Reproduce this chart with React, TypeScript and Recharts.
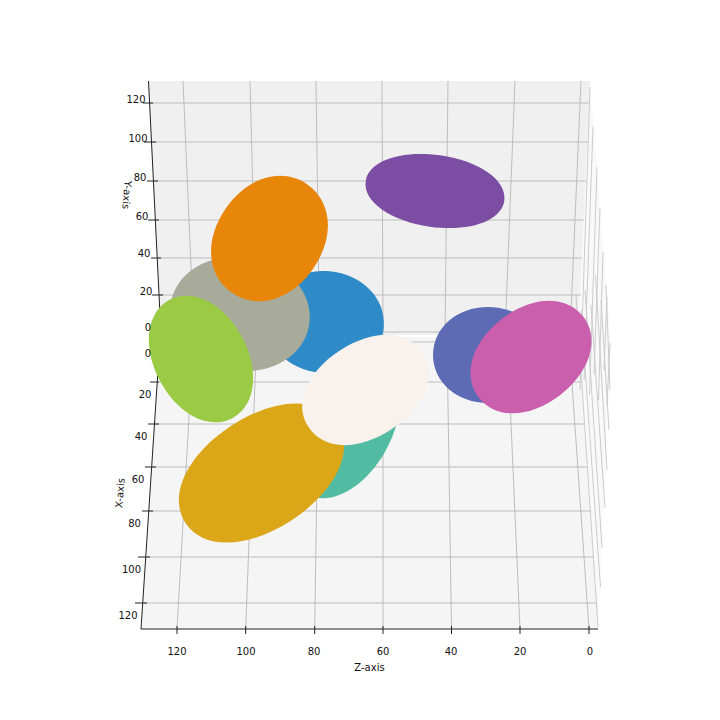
import React from 'react';
import { ComposedChart, Area, Line, Scatter, XAxis, YAxis } from 'recharts';

// the 3D view is already projected, so everything is read in picture units
const SIZE = 720;
const FONT = '"DejaVu Sans", sans-serif';

const blobNames = ['purple', 'blue', 'gray', 'orange', 'green', 'teal', 'gold', 'cream', 'indigo', 'magenta'];
const blobX = [435, 325, 240, 269.5, 201, 344, 261.5, 365.5, 488, 531];
const blobY = [191, 322, 314, 238.5, 359, 429, 473, 390, 355, 357];
const blobLong = [70, 59, 70, 66, 67, 75, 91, 68, 55, 66];
const blobShort = [36, 51, 57, 53, 46.5, 47, 56, 47, 48, 48];
const blobTilt = [8, 5, 8, -55, 62, -60, -33.5, -33, 0, -38];
const blobRound = [0.57, 0.56, 0.565, 0.58, 0.57, 0.56, 0.58, 0.59, 0.565, 0.58];
const blobColors = ['#7b4ea3', '#2e8bc7', '#a8ab9a', '#e8860a', '#9bca44', '#52bca3', '#dba617', '#f8f1ec', '#5d6ab4', '#ca5fae'];

// panes, as [x, [top, bottom]]
const wallPane: [number, [number, number]][] = [[578, [337, 337]], [590, [81, 512]], [598, [181, 629]], [611, [343, 343]]];
const upperPane: [number, [number, number]][] = [[148, [81, 81]], [161, [81, 335]], [578, [81, 335]], [590, [81, 81]]];
const lowerPane: [number, [number, number]][] = [[141, [629, 629]], [160, [337, 629]], [578, [337, 629]], [598, [629, 629]]];

// segments as x1, y1, x2, y2
const rowLines = [
  [150, 103, 589, 103], [152, 142, 588, 142], [155, 181, 586, 181], [156, 220, 584, 220], [158, 258, 582, 258], [159, 295, 581, 295], [161, 332, 579, 332],
  [160, 342, 578, 342], [157, 382, 581, 382], [155, 424, 584, 424], [152, 467, 587, 467], [149, 511, 591, 511], [146, 557, 594, 557], [144, 603, 597, 603],
];
const columnLines = [
  [183, 81, 194, 335], [250, 81, 256.6, 335], [316, 81, 319.5, 335], [382, 81, 383, 335], [448, 81, 445, 335], [515, 81, 505, 335], [581, 81, 570, 335],
  [193.4, 340, 177, 629], [256.6, 340, 245.7, 629], [319, 340, 314.7, 629], [383, 340, 383, 629], [447, 340, 451.5, 629], [507.4, 340, 520, 629], [569, 340, 589, 629],
];
const fanLines = [
  [590, 87, 580, 390], [593, 127, 584, 380], [597, 167, 589.5, 395], [600, 208, 594, 375], [603, 252, 598.5, 400], [607, 297, 604, 370], [610, 343, 607, 405],
  [610, 390, 606, 285], [609, 430, 601, 300], [607, 470, 595.5, 275], [605, 508, 591, 305], [602, 548, 585, 290], [600.5, 587, 581, 310], [598, 627, 576, 295],
];
const spineLines = [
  [148.5, 81, 161, 335], [160, 340, 141, 629], [141, 629, 598, 629],
];
const tickLines = [
  [143, 103, 153, 103], [144, 142, 156, 142], [147, 181, 158, 181], [148, 220, 159, 220], [151, 258, 161, 258], [152, 295, 163, 295],
  [150, 382, 159, 382], [148, 424, 159, 424], [145, 467, 156, 467], [142, 511, 153, 511], [138, 557, 150, 557], [135, 603, 147, 603],
  [177, 626, 177, 634], [245.7, 626, 245.7, 634], [314.7, 626, 314.7, 634], [383, 626, 383, 634], [451.5, 626, 451.5, 634], [520, 626, 520, 634], [589, 626, 589, 634],
];

const tickText = ['120', '100', '80', '60', '40', '20', '0', '0', '20', '40', '60', '80', '100', '120', '120', '100', '80', '60', '40', '20', '0'];
const tickTextX = [136, 138, 140, 142, 144, 146, 148, 148, 145, 141, 138, 134.5, 131.5, 128, 177, 246, 314, 383, 451, 520, 590];
const tickTextY = [99.5, 138.5, 177.5, 216, 253.5, 291.5, 327, 353, 394, 436, 479, 523, 569, 615, 651, 651, 651, 651, 651, 651, 651];

const axisTitles = ['Y-axis', 'X-axis', 'Z-axis'];
const axisTitleX = [127, 120, 369.5];
const axisTitleY = [195, 493, 667];
const axisTitleTurn = [95, -85, 0];

const blobs = blobNames.map((name, i) => ({ name, x: blobX[i], y: blobY[i], long: blobLong[i], short: blobShort[i], tilt: blobTilt[i], round: blobRound[i], color: blobColors[i] }));
const ticks = tickText.map((text, i) => ({ text, x: tickTextX[i], y: tickTextY[i] }));
const titles = axisTitles.map((text, i) => ({ text, x: axisTitleX[i], y: axisTitleY[i], turn: axisTitleTurn[i] }));

const segment = (s: number[]) => [{ x: s[0], y: s[1] }, { x: s[2], y: s[3] }];
const pane = (p: [number, [number, number]][]) => p.map(([x, range]) => ({ x, range }));

// the perspective makes them fuller than true ellipses, so four cubics with a bigger handle
const BlobShape = (props: any) => {
  const { cx, cy, payload } = props;
  const a = payload.long;
  const b = payload.short;
  const ka = a * payload.round;
  const kb = b * payload.round;
  const d = [
    `M${cx + a} ${cy}`,
    `C${cx + a} ${cy + kb} ${cx + ka} ${cy + b} ${cx} ${cy + b}`,
    `C${cx - ka} ${cy + b} ${cx - a} ${cy + kb} ${cx - a} ${cy}`,
    `C${cx - a} ${cy - kb} ${cx - ka} ${cy - b} ${cx} ${cy - b}`,
    `C${cx + ka} ${cy - b} ${cx + a} ${cy - kb} ${cx + a} ${cy}Z`,
  ].join('');
  return <path d={d} fill={payload.color} transform={`rotate(${payload.tilt} ${cx} ${cy})`} />;
};

const TextShape = (props: any) => {
  const { cx, cy, payload } = props;
  return (
    <text
      x={cx}
      y={cy}
      textAnchor="middle"
      dominantBaseline="central"
      fontFamily={FONT}
      fontSize={10}
      fill="#111"
      transform={payload.turn ? `rotate(${payload.turn} ${cx} ${cy})` : undefined}
    >
      {payload.text}
    </text>
  );
};

const drawLines = (group: number[][], name: string, color: string, width: number) =>
  group.map((s, i) => (
    <Line
      key={`${name}-${i}`}
      data={segment(s)}
      dataKey="y"
      stroke={color}
      strokeWidth={width}
      dot={false}
      activeDot={false}
      legendType="none"
      isAnimationActive={false}
    />
  ));

export default function App() {
  return (
    <div style={{ position: 'absolute', left: 0, top: 0, width: SIZE, height: SIZE, background: '#fff' }}>
      <ComposedChart width={SIZE} height={SIZE} margin={{ top: 0, right: 0, bottom: 0, left: 0 }}>
        <XAxis dataKey="x" type="number" domain={[0, SIZE]} hide allowDataOverflow />
        <YAxis type="number" domain={[0, SIZE]} reversed hide allowDataOverflow />
        <Area data={pane(wallPane)} dataKey="range" type="linear" fill="#f9f9f9" fillOpacity={1} stroke="none" dot={false} activeDot={false} isAnimationActive={false} />
        <Area data={pane(upperPane)} dataKey="range" type="linear" fill="#f0f0f0" fillOpacity={1} stroke="none" dot={false} activeDot={false} isAnimationActive={false} />
        <Area data={pane(lowerPane)} dataKey="range" type="linear" fill="#f5f5f5" fillOpacity={1} stroke="none" dot={false} activeDot={false} isAnimationActive={false} />
        {drawLines(fanLines, 'fan', '#c6c6c6', 0.9)}
        {drawLines(rowLines, 'row', '#bdbdbd', 1)}
        {drawLines(columnLines, 'column', '#bdbdbd', 1)}
        {drawLines(spineLines, 'spine', '#222', 1)}
        {drawLines(tickLines, 'tick', '#222', 1)}
        <Scatter data={blobs} dataKey="y" shape={<BlobShape />} isAnimationActive={false} />
        <Scatter data={ticks} dataKey="y" shape={<TextShape />} isAnimationActive={false} />
        <Scatter data={titles} dataKey="y" shape={<TextShape />} isAnimationActive={false} />
      </ComposedChart>
    </div>
  );
}
